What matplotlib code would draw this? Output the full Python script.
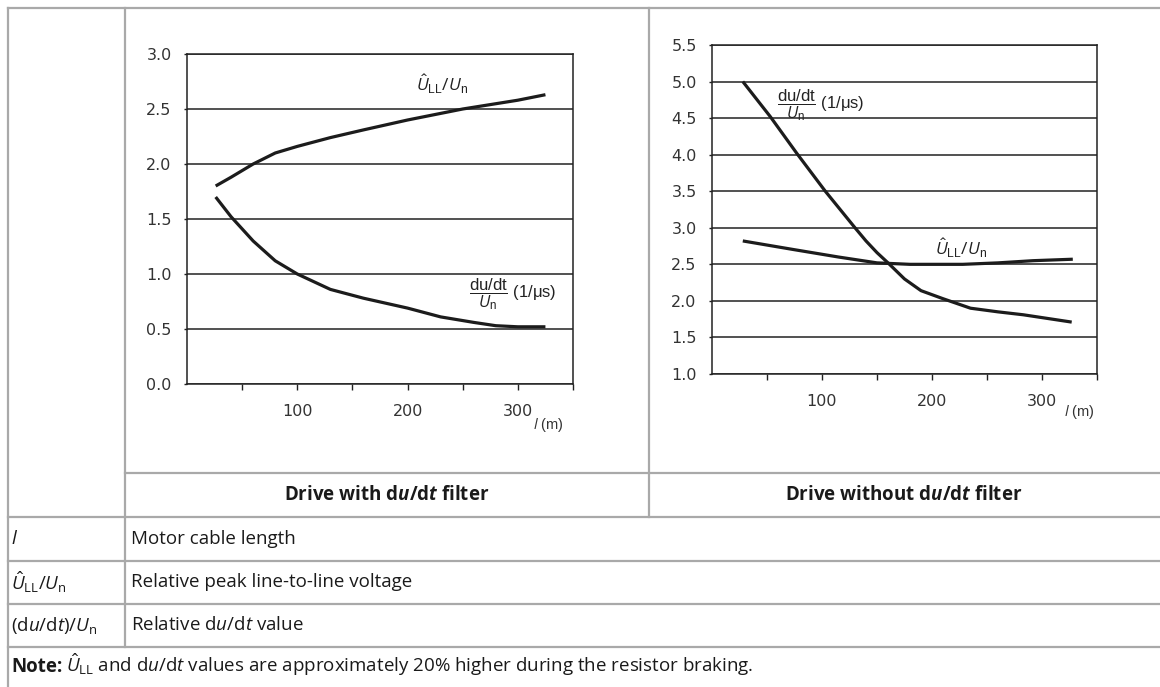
import matplotlib.pyplot as plt
import numpy as np

plt.rcParams['mathtext.fontset'] = 'custom'
plt.rcParams['mathtext.rm'] = 'Open Sans'
plt.rcParams['mathtext.it'] = 'Open Sans:italic'
plt.rcParams['mathtext.bf'] = 'Open Sans:bold'
plt.rcParams['mathtext.bfit'] = 'Open Sans:italic:bold'
plt.rcParams['mathtext.sf'] = 'Liberation Sans'

# left chart: drive with du/dt filter
l_with_u = [26, 40, 60, 80, 100, 130, 160, 200, 250, 300, 325]
u_with = [1.80, 1.88, 2.00, 2.10, 2.16, 2.24, 2.31, 2.40, 2.50, 2.58, 2.63]
l_with_d = [26, 40, 60, 80, 100, 130, 160, 200, 230, 260, 280, 300, 325]
d_with = [1.70, 1.52, 1.30, 1.12, 1.00, 0.86, 0.78, 0.69, 0.61, 0.56, 0.53, 0.52, 0.52]

# right chart: drive without du/dt filter
l_wo_u = [28, 75, 115, 150, 180, 228, 260, 292, 328]
u_wo = [2.82, 2.70, 2.60, 2.52, 2.50, 2.50, 2.52, 2.55, 2.57]
l_wo_d = [28, 53, 77, 103, 130, 140, 150, 160, 175, 190, 210, 235, 260, 283, 327]
d_wo = [5.0, 4.52, 4.02, 3.5, 3.0, 2.82, 2.66, 2.52, 2.30, 2.14, 2.03, 1.90, 1.85, 1.81, 1.71]

col_titles = [r'Drive with d$\mathbfit{u}$/d$\mathbfit{t}$ filter',
              r'Drive without d$\mathbfit{u}$/d$\mathbfit{t}$ filter']
sym_labels = [r'$\mathit{l}$', r'$\hat{U}_{\mathrm{LL}}/U_{\mathrm{n}}$',
              r'(d$\mathit{u}$/d$\mathit{t}$)/$U_{\mathrm{n}}$']
sym_texts = ['Motor cable length', 'Relative peak line-to-line voltage',
             r'Relative d$\mathit{u}$/d$\mathit{t}$ value']
note_head = 'Note:'
note_text = (r'$\hat{U}_{\mathrm{LL}}$ and d$\mathit{u}$/d$\mathit{t}$ '
             'values are approximately 20% higher during the resistor braking.')

W, H = 1160, 687
fig = plt.figure(figsize=(W / 100, H / 100), dpi=100)

# table frame drawn in pixel coordinates
bg = fig.add_axes([0, 0, 1, 1])
bg.set_xlim(0, W)
bg.set_ylim(H, 0)
bg.axis('off')
gc = '#a9a9a9'
glw = 1.6
bg.plot([8, W], [8, 8], color=gc, lw=glw)
bg.plot([8, 8], [8, H], color=gc, lw=glw)
bg.plot([125, 125], [8, 647], color=gc, lw=glw)
bg.plot([649, 649], [8, 517], color=gc, lw=glw)
bg.plot([125, W], [473, 473], color=gc, lw=glw)
for y in [517, 561, 604, 647]:
    bg.plot([8, W], [y, y], color=gc, lw=glw)

tfont = 'Open Sans'
tsize = 13.5
tc = '#1a1a1a'
bg.text(387, 495, col_titles[0], ha='center', va='center', family=tfont,
        fontsize=tsize, fontweight='bold', color=tc)
bg.text(904, 495, col_titles[1], ha='center', va='center', family=tfont,
        fontsize=tsize, fontweight='bold', color=tc)
row_y = [539, 582, 625]
for i in range(0, 3):
    bg.text(11, row_y[i], sym_labels[i], ha='left', va='center', family=tfont,
            fontsize=tsize, color=tc)
    bg.text(131, row_y[i], sym_texts[i], ha='left', va='center', family=tfont,
            fontsize=tsize, color=tc)
bg.text(11, 672, note_head, ha='left', va='baseline', family=tfont,
        fontsize=tsize, fontweight='bold', color=tc)
bg.text(66, 672, note_text, ha='left', va='baseline', family=tfont,
        fontsize=tsize, color=tc)


def make_axes(box, ylim, yticks):
    x0, y0, x1, y1 = box
    ax = fig.add_axes([x0 / W, 1 - y1 / H, (x1 - x0) / W, (y1 - y0) / H])
    ax.set_xlim(0, 350)
    ax.set_ylim(*ylim)
    ax.set_xticks([50, 100, 150, 200, 250, 300, 350])
    ax.set_xticklabels(['', '100', '', '200', '', '300', ''])
    ax.set_yticks(yticks)
    ax.set_yticklabels(['%.1f' % v for v in yticks])
    ax.tick_params(axis='x', length=4.5, width=1, pad=10, labelsize=11.5,
                   labelcolor='#333333', colors='#222222')
    ax.tick_params(axis='y', length=2, width=1, pad=9, labelsize=11.5,
                   labelcolor='#333333', colors='#222222')
    for sp in ax.spines.values():
        sp.set_linewidth(1.1)
        sp.set_color('#222222')
    for v in yticks:
        ax.axhline(v, color='#222222', lw=1.1, zorder=1)
    ax.patch.set_alpha(0)
    return ax


lc = '#1c1c1c'
lw = 2.3
frac = r'$\dfrac{\mathsf{du/dt}}{U_{\mathsf{n}}}$ (1/μs)'
uhat = r'$\hat{U}_{\mathsf{LL}}/U_{\mathsf{n}}$'

ax1 = make_axes((187, 54, 573, 384), (0, 3.0), np.arange(0, 3.01, 0.5))
ax1.plot(l_with_u, u_with, color=lc, lw=lw, solid_capstyle='butt', zorder=3)
ax1.plot(l_with_d, d_with, color=lc, lw=lw, solid_capstyle='butt', zorder=3)
ax1.text(208, 2.72, uhat, fontsize=12.5, family='Liberation Sans',
         ha='left', va='center', color='#222222')
ax1.text(256, 0.82, frac, fontsize=12, family='Liberation Sans',
         ha='left', va='center', color='#222222')
ax1.annotate(r'$\mathit{l}$ (m)', xy=(342, 0), xytext=(0, -41), textcoords='offset pixels',
             fontsize=10.5, family='Liberation Sans', ha='right', va='center',
             color='#333333', annotation_clip=False)

ax2 = make_axes((712, 45, 1097, 374), (1.0, 5.5), np.arange(1.0, 5.51, 0.5))
ax2.plot(l_wo_u, u_wo, color=lc, lw=lw, solid_capstyle='butt', zorder=3)
ax2.plot(l_wo_d, d_wo, color=lc, lw=lw, solid_capstyle='butt', zorder=3)
ax2.text(203, 2.72, uhat, fontsize=12.5, family='Liberation Sans',
         ha='left', va='center', color='#222222')
ax2.text(59, 4.68, frac, fontsize=12, family='Liberation Sans',
         ha='left', va='center', color='#222222')
ax2.annotate(r'$\mathit{l}$ (m)', xy=(348, 1.0), xytext=(0, -38), textcoords='offset pixels',
             fontsize=10.5, family='Liberation Sans', ha='right', va='center',
             color='#333333', annotation_clip=False)

fig.savefig('out.png', dpi=100)
